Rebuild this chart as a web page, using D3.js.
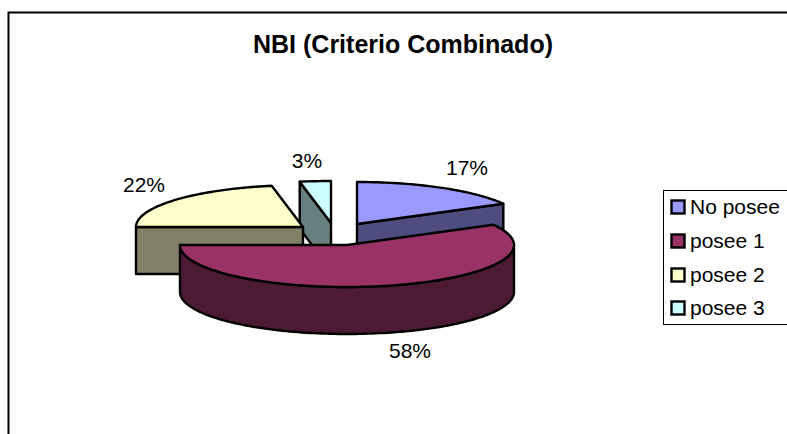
<!DOCTYPE html>
<html><head><meta charset="utf-8">
<script src="https://cdn.jsdelivr.net/npm/d3@7/dist/d3.min.js"></script>
<style>html,body{margin:0;padding:0;background:#fff;overflow:hidden}svg{display:block}text{font-family:"Liberation Sans",Arial,sans-serif;fill:#000}</style>
</head><body><svg width="787" height="434"></svg>
<script>
const categories = ["No posee","posee 1","posee 2","posee 3"];
const values = [17,58,22,3];
const labels = ["17%","58%","22%","3%"];
const topColors = ["#9999FF","#993366","#FFFFCC","#CCFFFF"];
const sideColors = ["#4D4D80","#4D1A33","#808066","#668080"];
const offsets = [[10,-21],[0,0],[-44,-18],[-16,-22]];
const labelPos = [[467,175],[410,358],[144,192],[307,168]];
const legendY = [207,241,275,308];

const svg = d3.select("svg");
svg.append("rect").attr("x",8.5).attr("y",12.5).attr("width",900).attr("height",600)
  .attr("fill","#fff").attr("stroke","#000").attr("stroke-width",2);

svg.append("text").attr("x",403).attr("y",53).attr("text-anchor","middle")
  .attr("font-size",25).attr("font-weight","bold").text("NBI (Criterio Combinado)");

const cx=347, cy=245, rx=167, ry=42, depth=47;
const pie = d3.pie().sort(null).value(d=>d)(values);
const px = d3.scaleLinear().domain([-1,1]).range([cx-rx,cx+rx]);
const py = d3.scaleLinear().domain([-1,1]).range([cy-ry,cy+ry]);
const pt = (a,o,dz=0)=>[px(Math.sin(a))+o[0], py(-Math.cos(a))+o[1]+dz];
const apex = (o,dz=0)=>[cx+o[0],cy+o[1]+dz];
const line = d3.line();
const arcPts = (a0,a1,o,dz=0)=>{
  const n=Math.max(2,Math.ceil(Math.abs(a1-a0)*40));
  return d3.range(n+1).map(i=>pt(a0+(a1-a0)*i/n,o,dz));
};
const stroke={stroke:"#000","stroke-width":2.4,"stroke-linejoin":"round"};
function draw(points,fill){
  const p=svg.append("path").attr("d",line(points)+"Z").attr("fill",fill);
  Object.entries(stroke).forEach(([k,v])=>p.attr(k,v));
}
function slice(i){
  const s=pie[i], o=offsets[i], a0=s.startAngle, a1=s.endAngle;
  if(Math.sin(a1)<0 && Math.cos(a1)>=-0.001 && i!==1){
    draw([pt(a0,o),apex(o),apex(o,depth),pt(a0,o,depth)],sideColors[i]);
  }
  if(i===0){
    draw([apex(o),pt(a1,o),pt(a1,o,depth),apex(o,depth)],sideColors[i]);
  }
  const w0=Math.max(a0,Math.PI/2), w1=Math.min(a1,3*Math.PI/2);
  if(w1>w0) draw([...arcPts(w0,w1,o),...arcPts(w1,w0,o,depth)],sideColors[i]);
  draw([apex(o),...arcPts(a0,a1,o)],topColors[i]);
}
[3,2,0,1].forEach(slice);

labels.forEach((t,i)=>svg.append("text").attr("x",labelPos[i][0]).attr("y",labelPos[i][1])
  .attr("text-anchor","middle").attr("font-size",21).text(t));

svg.append("rect").attr("x",663.5).attr("y",190.5).attr("width",200).attr("height",134)
  .attr("fill","#fff").attr("stroke","#000").attr("stroke-width",1);
categories.forEach((c,i)=>{
  svg.append("rect").attr("x",671.5).attr("y",legendY[i]-6.5).attr("width",13).attr("height",13)
    .attr("fill",topColors[i]).attr("stroke","#000").attr("stroke-width",2.4);
  svg.append("text").attr("x",690).attr("y",legendY[i]+7).attr("font-size",21).text(c);
});
</script></body></html>
